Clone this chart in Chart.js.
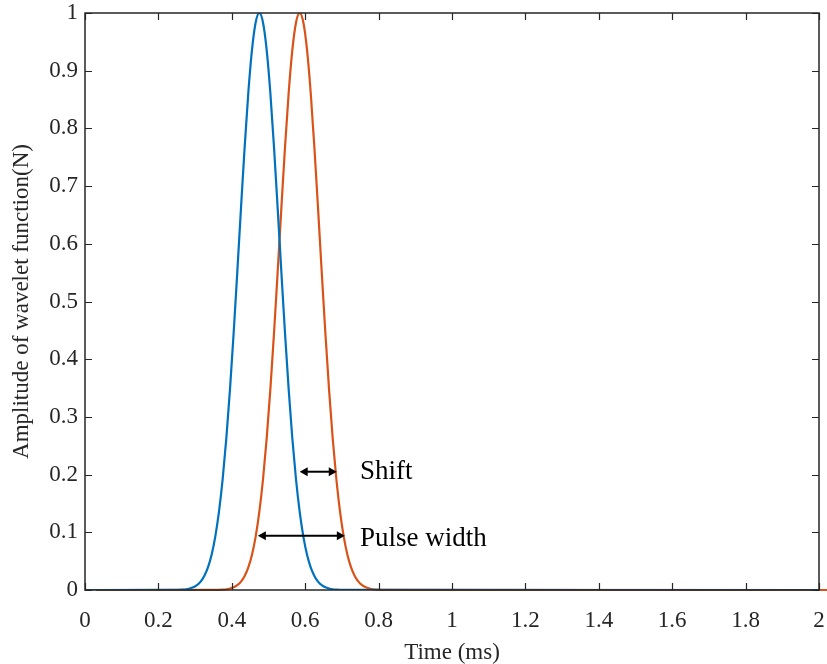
<!DOCTYPE html>
<html>
<head>
<meta charset="utf-8">
<script src="https://cdn.jsdelivr.net/npm/chart.js"></script>
<style>
    html, body { margin: 0; padding: 0; background: #fff; }
    #wrap { width: 827px; height: 664px; }
</style>
</head>
<body>
<div id="wrap"><canvas id="waveletChart" width="827" height="664"></canvas></div>
<script>
// Values
const timeBlue = [0, 0.255, 0.265, 0.275, 0.285, 0.295, 0.305, 0.315, 0.325, 0.335, 0.345, 0.355, 0.365, 0.375, 0.385, 0.395, 0.405, 0.415, 0.425, 0.435, 0.445, 0.455, 0.465, 0.475, 0.485, 0.495, 0.505, 0.515, 0.525, 0.535, 0.545, 0.555, 0.565, 0.575, 0.585, 0.595, 0.605, 0.615, 0.625, 0.635, 0.645, 0.655, 0.665, 0.675, 0.685, 0.695, 2];
const ampBlue = [0, 0.0003, 0.0007, 0.0013, 0.0026, 0.0047, 0.0084, 0.0145, 0.0243, 0.0392, 0.0612, 0.0926, 0.1353, 0.1915, 0.2622, 0.3472, 0.4449, 0.5516, 0.6615, 0.7676, 0.8618, 0.9360, 0.9836, 1, 0.9836, 0.9360, 0.8618, 0.7676, 0.6615, 0.5516, 0.4449, 0.3472, 0.2622, 0.1915, 0.1353, 0.0926, 0.0612, 0.0392, 0.0243, 0.0145, 0.0084, 0.0047, 0.0026, 0.0013, 0.0007, 0.0003, 0];

const timeOrange = [0.03, 0.365, 0.375, 0.385, 0.395, 0.405, 0.415, 0.425, 0.435, 0.445, 0.455, 0.465, 0.475, 0.485, 0.495, 0.505, 0.515, 0.525, 0.535, 0.545, 0.555, 0.565, 0.575, 0.585, 0.595, 0.605, 0.615, 0.625, 0.635, 0.645, 0.655, 0.665, 0.675, 0.685, 0.695, 0.705, 0.715, 0.725, 0.735, 0.745, 0.755, 0.765, 0.775, 0.785, 0.795, 0.805, 2.03];
const ampOrange = [0, 0.0003, 0.0007, 0.0013, 0.0026, 0.0047, 0.0084, 0.0145, 0.0243, 0.0392, 0.0612, 0.0926, 0.1353, 0.1915, 0.2622, 0.3472, 0.4449, 0.5516, 0.6615, 0.7676, 0.8618, 0.9360, 0.9836, 1, 0.9836, 0.9360, 0.8618, 0.7676, 0.6615, 0.5516, 0.4449, 0.3472, 0.2622, 0.1915, 0.1353, 0.0926, 0.0612, 0.0392, 0.0243, 0.0145, 0.0084, 0.0047, 0.0026, 0.0013, 0.0007, 0.0003, 0];

const xTicks = [0, 0.2, 0.4, 0.6, 0.8, 1, 1.2, 1.4, 1.6, 1.8, 2];
const yTicks = [0, 0.1, 0.2, 0.3, 0.4, 0.5, 0.6, 0.7, 0.8, 0.9, 1];

// Annotations (data units): [x from, x to, y]
const shiftArrow = [0.585, 0.686, 0.205];
const widthArrow = [0.471, 0.708, 0.094];
const shiftLabel = 'Shift';
const widthLabel = 'Pulse width';
const labelX = 0.749;

const AXIS_COLOR = '#262626';
const FONT = '"Liberation Serif", "Times New Roman", serif';

function toPoints(xs, ys) {
    return xs.map((x, i) => ({ x: x, y: ys[i] }));
}

// Box, inward ticks and arrow annotations
const matlabAxes = {
    id: 'matlabAxes',
    afterDatasetsDraw(chart) {
        const { ctx, chartArea: a, scales } = chart;
        const xs = scales.x, ys = scales.y;
        const tl = 7;
        ctx.save();
        ctx.strokeStyle = AXIS_COLOR;
        ctx.lineWidth = 1.2;
        ctx.beginPath();
        xTicks.forEach(v => {
            const px = Math.round(xs.getPixelForValue(v)) + 0.5;
            ctx.moveTo(px, a.bottom); ctx.lineTo(px, a.bottom - tl);
            ctx.moveTo(px, a.top); ctx.lineTo(px, a.top + tl);
        });
        yTicks.forEach(v => {
            const py = Math.round(ys.getPixelForValue(v)) + 0.5;
            ctx.moveTo(a.left, py); ctx.lineTo(a.left + tl, py);
            ctx.moveTo(a.right, py); ctx.lineTo(a.right - tl, py);
        });
        ctx.stroke();
        ctx.lineWidth = 1.5;
        ctx.strokeRect(a.left, a.top, a.right - a.left, a.bottom - a.top);

        function arrow(spec) {
            const x1 = xs.getPixelForValue(spec[0]);
            const x2 = xs.getPixelForValue(spec[1]);
            const y = ys.getPixelForValue(spec[2]);
            const h = 8, w = 4.5;
            ctx.strokeStyle = '#000';
            ctx.fillStyle = '#000';
            ctx.lineWidth = 2;
            ctx.beginPath();
            ctx.moveTo(x1 + 3, y); ctx.lineTo(x2 - 3, y);
            ctx.stroke();
            ctx.beginPath();
            ctx.moveTo(x1, y); ctx.lineTo(x1 + h, y - w); ctx.lineTo(x1 + h, y + w); ctx.closePath();
            ctx.moveTo(x2, y); ctx.lineTo(x2 - h, y - w); ctx.lineTo(x2 - h, y + w); ctx.closePath();
            ctx.fill();
        }
        arrow(shiftArrow);
        arrow(widthArrow);

        ctx.fillStyle = '#000';
        ctx.font = '27px ' + FONT;
        ctx.textBaseline = 'middle';
        ctx.textAlign = 'left';
        ctx.fillText(shiftLabel, xs.getPixelForValue(labelX), ys.getPixelForValue(shiftArrow[2]));
        ctx.fillText(widthLabel, xs.getPixelForValue(labelX), ys.getPixelForValue(widthArrow[2]) + 3);
        ctx.restore();
    }
};

const ctx = document.getElementById('waveletChart');
new Chart(ctx, {
    type: 'line',
    data: {
        datasets: [{
            label: 'Wavelet 1',
            data: toPoints(timeBlue, ampBlue),
            borderColor: '#0072BD',
            borderWidth: 2.2,
            pointRadius: 0,
            cubicInterpolationMode: 'monotone',
            fill: false
        }, {
            label: 'Wavelet 2',
            data: toPoints(timeOrange, ampOrange),
            borderColor: '#D95319',
            borderWidth: 2.2,
            pointRadius: 0,
            cubicInterpolationMode: 'monotone',
            fill: false,
            clip: { left: 0, top: 0, right: 10, bottom: 5 }
        }]
    },
    options: {
        responsive: false,
        animation: false,
        devicePixelRatio: 1,
        layout: { padding: { top: 13, right: 8, left: 0, bottom: 0 } },
        plugins: {
            legend: { display: false },
            tooltip: { enabled: false }
        },
        scales: {
            x: {
                type: 'linear',
                min: 0,
                max: 2,
                afterFit: s => {
                    s.height = 74;
                    s.paddingLeft = 0;
                    s.paddingRight = 0;
                },
                afterBuildTicks: s => { s.ticks = xTicks.map(v => ({ value: v })); },
                grid: { display: false, drawTicks: false },
                border: { display: false },
                ticks: {
                    color: AXIS_COLOR,
                    font: { family: FONT, size: 23 },
                    padding: 17,
                    maxRotation: 0,
                    callback: v => String(v)
                },
                title: {
                    display: true,
                    text: 'Time (ms)',
                    color: AXIS_COLOR,
                    font: { family: FONT, size: 23 },
                    padding: { top: 0, bottom: -3 }
                }
            },
            y: {
                type: 'linear',
                min: 0,
                max: 1,
                afterFit: s => {
                    s.width = 85;
                    s.paddingTop = 0;
                    s.paddingBottom = 0;
                },
                afterBuildTicks: s => { s.ticks = yTicks.map(v => ({ value: v })); },
                grid: { display: false, drawTicks: false },
                border: { display: false },
                ticks: {
                    color: AXIS_COLOR,
                    font: { family: FONT, size: 23 },
                    padding: 7,
                    callback: v => String(v)
                },
                title: {
                    display: true,
                    text: 'Amplitude of wavelet function(N)',
                    color: AXIS_COLOR,
                    font: { family: FONT, size: 23 },
                    padding: { top: 8, bottom: 0 }
                }
            }
        }
    },
    plugins: [matlabAxes]
});
</script>
</body>
</html>
